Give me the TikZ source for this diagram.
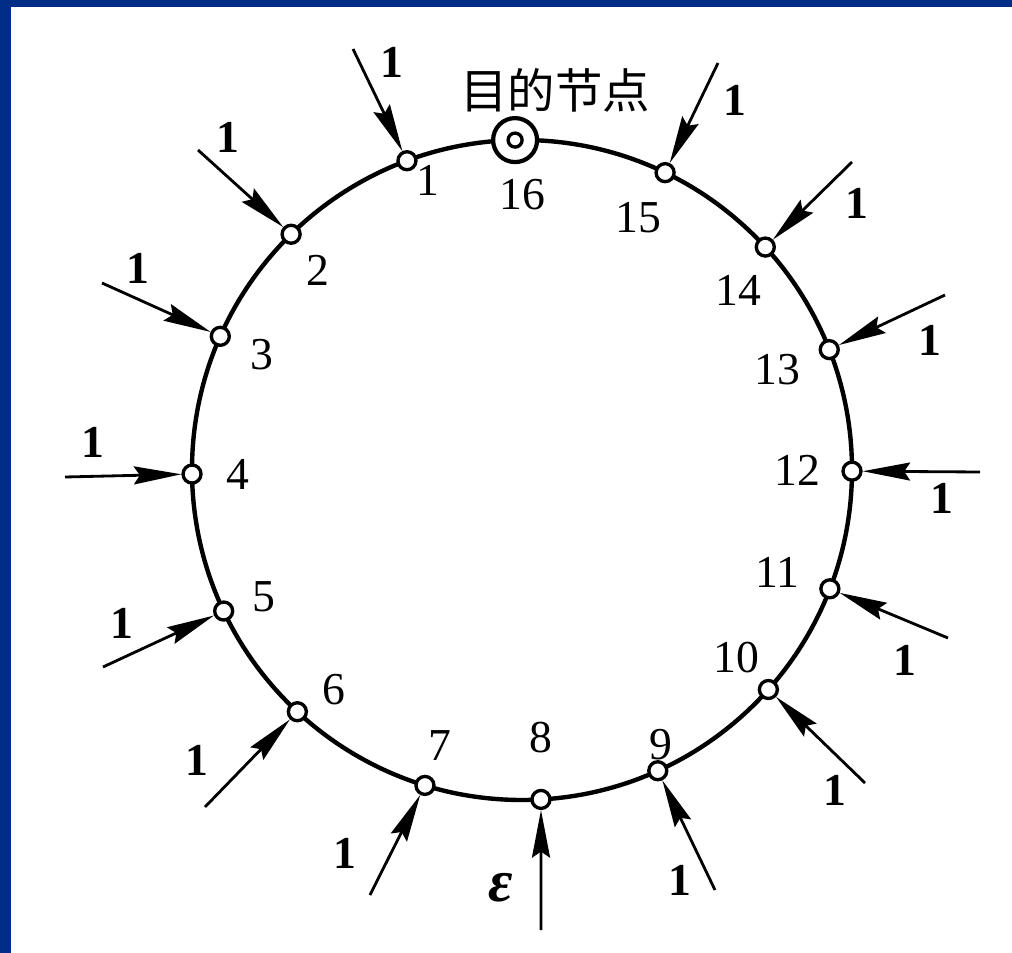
\documentclass[tikz,border=0pt]{standalone}
\usepackage{fontspec}
\setmainfont{Liberation Serif}
\newfontfamily\cjkfont{Noto Sans CJK SC}
\usetikzlibrary{arrows.meta, calc}
\definecolor{slideblue}{RGB}{0,45,135}

\begin{document}
\begin{tikzpicture}[x=0.02cm, y=-0.02cm, font=\fontsize{26}{26}\selectfont,
    hop/.style={circle, draw, fill=white, line width=1.9pt, inner sep=0pt, minimum size=0.36cm},
    feed/.style={-{Stealth[length=0.95cm, width=0.36cm, inset=0.12cm]}, line width=1.6pt}]
  % frame
  \useasboundingbox (0,0) rectangle (1012,953);
  \fill[slideblue] (0,0) rectangle (1012,953);
  \fill[white] (11,7) rectangle (1012,953);
  % ring
  \coordinate (c) at (522,470);
  \draw[line width=2.5pt] (c) circle (330);
  \foreach \i/\a/\lx/\ly in {1/110.4/428/180, 2/134.4/318/270, 3/156.1/262/355,
      4/180.7/238/474, 5/205.3/264/597, 6/227.1/334/690, 7/252.9/440/746,
      8/273.3/541/738, 9/294.3/661/745, 10/318.3/736/658, 11/338.9/777/572,
      12/359.8/797/470, 13/21.4/777/370, 14/42.5/738/290, 15/64.3/638/218}
    {
      \node[hop] (n\i) at ($(c)+(-\a:330)$) {};
      \node (l\i) at (\lx,\ly) {\i};
    }
  % destination
  \node[hop, line width=2.4pt, minimum size=0.88cm] (n16) at ($(c)+(-91.2:330)$) {};
  \draw[line width=1.9pt] (n16.center) circle (7);
  \node (l16) at (522,195) {16};
  \node[font=\cjkfont\fontsize{27}{27}\selectfont] (dest) at (555,90) {目的节点};
  % incoming traffic
  \foreach \i/\sx/\sy/\wx/\wy in {1/353/49/392/62, 2/198/150/228/137, 3/102/283/138/268,
      4/65/477/93/442, 5/103/667/122/623, 6/205/807/197/760, 7/370/895/345/853,
      9/715/890/680/880, 10/865/783/835/790, 11/948/638/905/660, 12/980/472/942/498,
      13/945/295/930/340, 14/852/162/857/203, 15/718/63/735/100}
    {
      \coordinate (s\i) at (\sx,\sy);
      \draw[feed] (s\i) -- (n\i);
      \node (w\i) at (\wx,\wy) {\textbf{1}};
    }
  \coordinate (s8) at (541,930);
  \draw[feed] (s8) -- (n8);
  \node[font=\fontsize{34}{34}\selectfont] (w8) at (501,888) {\textit{\textbf{ε}}};
\end{tikzpicture}
\end{document}
